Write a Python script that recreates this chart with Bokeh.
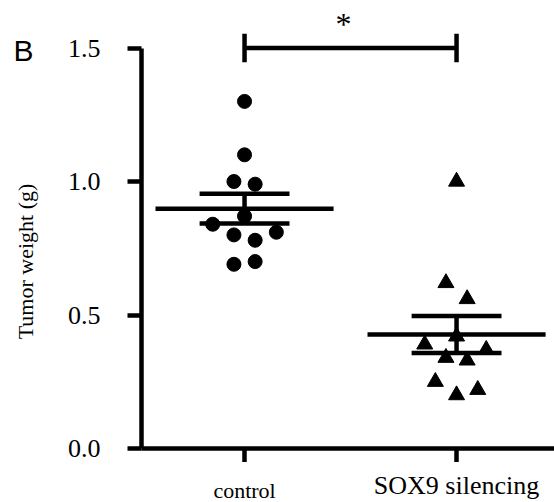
from bokeh.plotting import figure
from bokeh.models import Range1d, FixedTicker, NumeralTickFormatter
from bokeh.layouts import row, column
from bokeh.core.properties import value
from bokeh.embed import file_html
from bokeh.resources import INLINE
import numpy as np

# ---- data ----
categories = ["control", "SOX9 silencing"]
control_weight = [1.30, 1.10, 1.00, 0.99, 0.87, 0.84, 0.81, 0.80, 0.78, 0.69, 0.70]
control_jitter = [0.0, 0.0, -0.05, 0.05, 0.0, -0.15, 0.15, -0.05, 0.05, -0.05, 0.05]
sox9_weight = [1.00, 0.62, 0.56, 0.42, 0.39, 0.37, 0.34, 0.33, 0.25, 0.22, 0.20]
sox9_jitter = [0.0, -0.05, 0.05, 0.0, -0.15, 0.14, -0.05, 0.05, -0.10, 0.10, 0.0]
y_ticks = [0.0, 0.5, 1.0, 1.5]
significance_y = 1.5
significance_mark = "*"
panel_letter = "B"
y_title = "Tumor weight (g)"

LW = 4.5
SERIF = "Liberation Serif"
H = 502
W = 554
LEFT_W = 56
STRIP_H = 40

# ---- left strip: panel letter and y-axis title ----
pl = figure(width=LEFT_W, height=H, output_backend="svg", toolbar_location=None,
            x_range=Range1d(0, LEFT_W), y_range=Range1d(0, H),
            x_axis_location=None, y_axis_location=None, min_border=0)
pl.outline_line_color = None
pl.grid.visible = False
pl.text(x=[13], y=[H - 50], text=[panel_letter], text_font=value("Liberation Sans"),
        text_font_size="30px", text_baseline="middle", text_align="left",
        text_color="black")
pl.text(x=[25], y=[H - 261], text=[y_title], text_font=value(SERIF),
        text_font_size="22px", text_baseline="middle", text_align="center",
        angle=np.pi / 2, text_color="black")

# ---- main plot ----
p = figure(width=W - LEFT_W, height=H - STRIP_H, output_backend="svg", toolbar_location=None,
           x_range=Range1d(0.514, 2.462), y_range=Range1d(0, 1.678),
           min_border_left=141 - LEFT_W, min_border_right=0, min_border_top=0,
           min_border_bottom=14)
p.outline_line_color = None
p.grid.visible = False
p.background_fill_color = "white"
p.border_fill_color = "white"

pos = [1, 2]
groups = [control_weight, sox9_weight]

p.scatter([pos[0] + j for j in control_jitter], control_weight, marker="circle",
          size=14, color="black")
p.scatter([pos[1] + j for j in sox9_jitter], sox9_weight, marker="triangle",
          size=16, color="black")

# mean +/- SEM
for x, vals in zip(pos, groups):
    arr = np.array(vals)
    m = arr.mean()
    sem = arr.std(ddof=1) / np.sqrt(len(arr))
    p.segment(x0=[x - 0.42], y0=[m], x1=[x + 0.42], y1=[m], line_width=LW, color="black")
    p.segment(x0=[x - 0.212, x - 0.212], y0=[m + sem, m - sem],
              x1=[x + 0.212, x + 0.212], y1=[m + sem, m - sem], line_width=LW, color="black")
    p.segment(x0=[x], y0=[m - sem], x1=[x], y1=[m + sem], line_width=LW, color="black")

# significance bar
cap = 0.053
p.segment(x0=[pos[0]], y0=[significance_y], x1=[pos[1]], y1=[significance_y],
          line_width=LW, color="black")
p.segment(x0=pos, y0=[significance_y - cap] * 2, x1=pos, y1=[significance_y + cap] * 2,
          line_width=LW, color="black")
p.text(x=[(pos[0] + pos[1]) / 2], y=[1.59], text=[significance_mark],
       text_font=value(SERIF), text_font_size="32px", text_align="center",
       text_baseline="middle", text_color="black", x_offset=-7)

# axes
ya = p.yaxis[0]
ya.ticker = FixedTicker(ticks=y_ticks)
ya.formatter = NumeralTickFormatter(format="0.0")
ya.bounds = (0, 1.5)
ya.axis_line_width = LW
ya.major_tick_line_width = LW
ya.major_tick_out = 14
ya.major_tick_in = 0
ya.minor_tick_line_color = None
ya.major_label_text_font = SERIF
ya.major_label_text_font_size = "26px"
ya.major_label_text_color = "black"
ya.major_label_standoff = 27

xa = p.xaxis[0]
xa.ticker = FixedTicker(ticks=pos)
xa.major_label_overrides = {pos[0]: "", pos[1]: ""}
xa.major_label_text_font_size = "0px"
xa.major_label_standoff = 0
xa.axis_line_width = LW
xa.major_tick_line_width = LW
xa.major_tick_out = 14
xa.major_tick_in = 0
xa.minor_tick_line_color = None

# ---- bottom strip: category labels under the ticks (shares the x scale) ----
ps = figure(width=W - LEFT_W, height=STRIP_H, output_backend="svg", toolbar_location=None,
            x_range=p.x_range, y_range=Range1d(0, STRIP_H),
            x_axis_location=None, y_axis_location=None,
            min_border_left=141 - LEFT_W, min_border_right=0, min_border_top=0,
            min_border_bottom=0)
ps.outline_line_color = None
ps.grid.visible = False
ps.text(x=[pos[0]], y=[12.5], text=[categories[0]], text_font=value(SERIF),
        text_font_size="22px", text_align="center", text_baseline="middle",
        text_color="black")
ps.text(x=[pos[1]], y=[17], text=[categories[1]], text_font=value(SERIF),
        text_font_size="26px", text_align="center", text_baseline="middle",
        text_color="black")

layout = row(pl, column(p, ps, spacing=0), spacing=0)
open("out.html", "w").write(file_html(layout, INLINE))
